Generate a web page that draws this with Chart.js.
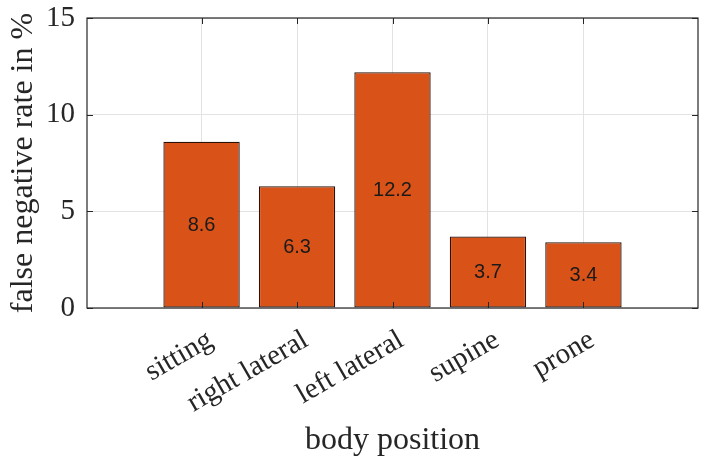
<!DOCTYPE html>
<html>
<head>
<meta charset="utf-8">
<script src="https://cdn.jsdelivr.net/npm/chart.js@4.4.0/dist/chart.umd.min.js"></script>
<style>
  html, body { margin: 0; padding: 0; background: #fff; }
  #wrap { width: 710px; height: 470px; }
</style>
</head>
<body>
<div id="wrap"><canvas id="myChart" width="710" height="470"></canvas></div>
<script>
// ----- data -----
var categories = ['sitting', 'right lateral', 'left lateral', 'supine', 'prone'];
var positions = [1, 2, 3, 4, 5];
var rates = [8.6, 6.3, 12.2, 3.7, 3.4];
var yTicks = [0, 5, 10, 15];

var barColor = '#D95319';
var axisColor = '#262626';
var serif = "'Liberation Serif', 'Times New Roman', serif";

var points = [];
positions.forEach((p, i) => { points.push({x: p, y: rates[i]}); });

// labels inside bars + inward tick marks + box
const matlabLook = {
  id: 'matlabLook',
  afterDatasetsDraw(chart) {
    const ctx = chart.ctx;
    const area = chart.chartArea;
    const xs = chart.scales.x, ys = chart.scales.y;

    // values in the middle of each bar
    ctx.save();
    ctx.fillStyle = '#1a1a1a';
    ctx.font = "20px 'Liberation Sans', Arial, sans-serif";
    ctx.textAlign = 'center';
    ctx.textBaseline = 'middle';
    chart.getDatasetMeta(0).data.forEach((bar, i) => {
      const mid = (bar.y + bar.base) / 2;
      ctx.fillText(rates[i].toFixed(1), bar.x, mid + 1);
    });
    ctx.restore();

    // ticks pointing inward
    ctx.save();
    ctx.strokeStyle = axisColor;
    ctx.lineWidth = 1;
    const tl = 6;
    ctx.beginPath();
    positions.forEach((p) => {
      const px = Math.round(xs.getPixelForValue(p)) + 0.5;
      ctx.moveTo(px, area.bottom); ctx.lineTo(px, area.bottom - tl);
      ctx.moveTo(px, area.top); ctx.lineTo(px, area.top + tl);
    });
    yTicks.forEach((v) => {
      const py = Math.round(ys.getPixelForValue(v)) + 0.5;
      ctx.moveTo(area.left, py); ctx.lineTo(area.left + tl, py);
      ctx.moveTo(area.right, py); ctx.lineTo(area.right - tl, py);
    });
    ctx.stroke();

    // box round the axes
    ctx.strokeStyle = axisColor;
    ctx.lineWidth = 1.2;
    ctx.strokeRect(area.left, area.top, area.right - area.left, area.bottom - area.top);
    ctx.restore();
  }
};

const config = {
  type: 'bar',
  data: {
    datasets: [{
      data: points,
      backgroundColor: barColor,
      borderColor: '#2a1208',
      borderWidth: 1.3,
      borderSkipped: false,
      barPercentage: 0.8,
      categoryPercentage: 1.0
    }]
  },
  options: {
    responsive: false,
    animation: false,
    layout: { padding: { top: 18, right: 12, left: 0, bottom: 0 } },
    plugins: {
      legend: { display: false },
      tooltip: { enabled: false }
    },
    scales: {
      x: {
        type: 'linear',
        min: -0.2,
        max: 6.2,
        offset: false,
        afterBuildTicks: (s) => { s.ticks = positions.map(v => ({value: v})); },
        afterFit: (s) => { s.height = 162; s.paddingLeft = 0; s.paddingRight = 0; },
        grid: { offset: false, color: '#e3e3e3', drawTicks: false },
        border: { display: false },
        ticks: {
          autoSkip: false,
          minRotation: 30,
          maxRotation: 30,
          padding: 15,
          labelOffset: 9,
          color: axisColor,
          font: { family: serif, size: 29 },
          callback: (v) => categories[v - 1]
        },
        title: {
          display: true,
          text: 'body position',
          color: axisColor,
          font: { family: serif, size: 32 },
          padding: { top: 0, bottom: 10 }
        }
      },
      y: {
        min: 0,
        max: 15,
        afterBuildTicks: (s) => { s.ticks = yTicks.map(v => ({value: v})); },
        afterFit: (s) => { s.width = 87; s.paddingTop = 0; s.paddingBottom = 0; },
        grid: { color: '#e3e3e3', drawTicks: false },
        border: { display: false },
        ticks: {
          padding: 12,
          color: axisColor,
          font: { family: serif, size: 29 }
        },
        title: {
          display: true,
          text: 'false negative rate in %',
          color: axisColor,
          font: { family: serif, size: 32 },
          padding: { top: 4, bottom: 0 }
        }
      }
    }
  },
  plugins: [matlabLook]
};

const myChart = new Chart(document.getElementById('myChart').getContext('2d'), config);
</script>
</body>
</html>
